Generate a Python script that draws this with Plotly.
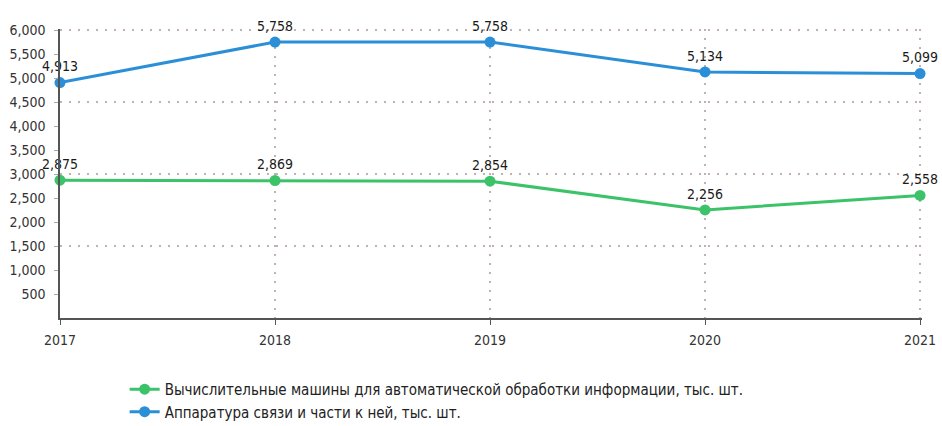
import plotly.graph_objects as go

years = [2017, 2018, 2019, 2020, 2021]
computers = [2875, 2869, 2854, 2256, 2558]
telecom = [4913, 5758, 5758, 5134, 5099]
name_computers = "Вычислительные машины для автоматической обработки информации, тыс. шт."
name_telecom = "Аппаратура связи и части к ней, тыс. шт."
y_ticks = list(range(500, 6001, 500))
y_grid = [1500, 3000, 4500, 6000]

FONT = "DejaVu Sans Condensed, Liberation Sans Narrow, Roboto, sans-serif"
GREEN = "#3cc36a"
BLUE = "#2b8fd8"
GRID = "#bfb2b0"

fig = go.Figure()
for name, vals, col in [(name_computers, computers, GREEN), (name_telecom, telecom, BLUE)]:
    fig.add_trace(go.Scatter(
        x=years, y=vals, name=name, mode="lines+markers+text",
        line=dict(color=col, width=3), marker=dict(color=col, size=11),
        text=[f"{v:,}" for v in vals], textposition="top center",
        textfont=dict(family=FONT, size=14, color="#1a1a1a"),
        cliponaxis=False,
    ))

fig.add_trace(go.Scatter(x=[years[0]], y=[y_grid[0]], yaxis="y2", showlegend=False,
                         mode="markers", marker=dict(opacity=0), hoverinfo="skip"))

y_range = [0, 6030]
fig.update_layout(
    width=942, height=426,
    margin=dict(l=60, r=20, t=29, b=108, autoexpand=False),
    paper_bgcolor="white", plot_bgcolor="white",
    font=dict(family=FONT, size=14, color="#333333"),
    showlegend=True,
    legend=dict(x=0.075, y=-0.19, xanchor="left", yanchor="top",
                font=dict(family=FONT, size=15, color="#222222"),
                itemwidth=30, tracegroupgap=2),
    xaxis=dict(range=[2017, 2021.009], tickvals=years, ticktext=[str(y) for y in years],
               showgrid=True, gridcolor=GRID, griddash="2px,7px", gridwidth=1.5,
               showline=True, linecolor="#555555", linewidth=1.5,
               ticks="outside", ticklen=5, tickcolor="#555555", ticklabelstandoff=3,
               zeroline=False, tickfont=dict(size=14, color="#333333")),
    yaxis=dict(range=y_range, tickvals=y_ticks, ticktext=[f"{v:,}" for v in y_ticks],
               showgrid=False, showline=True, linecolor="#555555", linewidth=1.5,
               ticks="outside", ticklen=4, tickcolor="#aaaaaa", zeroline=False,
               ticklabelstandoff=6,
               tickfont=dict(size=14, color="#333333")),
    yaxis2=dict(range=y_range, overlaying="y", tickvals=y_grid, showticklabels=False,
                showgrid=True, gridcolor=GRID, griddash="2px,7px", gridwidth=1.5,
                zeroline=False, showline=False),
)

fig.write_html("out.html", config={"displayModeBar": False},
               post_script="document.body.style.margin='0';document.body.style.overflow='hidden';")
